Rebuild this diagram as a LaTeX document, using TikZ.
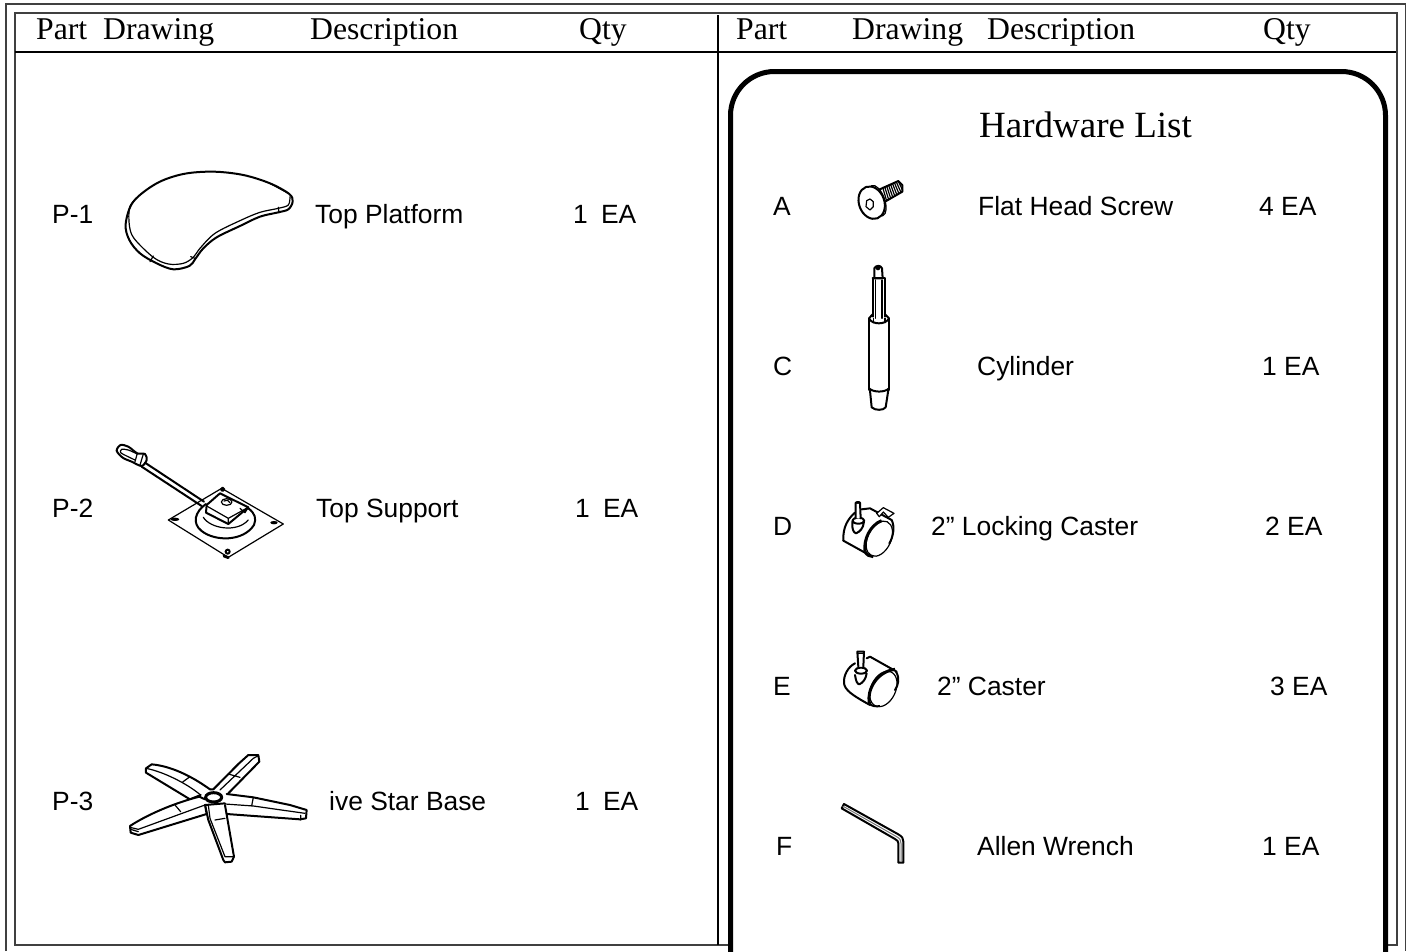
\documentclass[tikz,border=0pt]{standalone}
\usepackage{fontspec}
\setmainfont{Liberation Serif}
\setsansfont{Liberation Sans}
\tikzset{
  headtxt/.style={inner sep=0pt,anchor=base west,font=\rmfamily\fontsize{31.7}{34}\selectfont,text=black},
  bodytxt/.style={inner sep=0pt,anchor=base west,font=\sffamily\fontsize{26.4}{28}\selectfont,text=black},
  titletxt/.style={inner sep=0pt,anchor=base west,font=\rmfamily\fontsize{37}{40}\selectfont,text=black},
  thin ink/.style={line width=1.2pt,line join=round,line cap=round},
  mid ink/.style={line width=2pt,line join=round,line cap=round},
  bold ink/.style={line width=2.8pt,line join=round,line cap=round},
  zoomed/.style={x=0.3333pt,y=-0.3333pt}
}
\begin{document}
\begin{tikzpicture}[x=1pt,y=-1pt]
\useasboundingbox (0,0) rectangle (1408,951);
% frames
\draw[line width=1.3pt,black!75] (6,951) -- (6,4) -- (1405.5,4) -- (1405.5,951);
\draw[line width=1.4pt,black!75] (1397,52) -- (1397,13) -- (15,13) -- (15,945) -- (730,945);
\draw[line width=1.4pt,black!75] (1397,52) -- (1397,945) -- (1385,945);
\draw[line width=2.2pt] (15,52) -- (1396,52);
\draw[line width=2.5pt] (718,15) -- (718,945);
\draw[line width=5pt,rounded corners=44pt] (730.5,955) -- (730.5,71.5) -- (1385.5,71.5) -- (1385.5,955);
% header text
\node[headtxt] (h1) at (36,39) {Part};
\node[headtxt] (h2) at (103,39) {Drawing};
\node[headtxt] (h3) at (310,39) {Description};
\node[headtxt] (h4) at (579,39) {Qty};
\node[headtxt] (h5) at (736,39) {Part};
\node[headtxt] (h6) at (852,39) {Drawing};
\node[headtxt] (h7) at (987,39) {Description};
\node[headtxt] (h8) at (1263,39) {Qty};
\node[titletxt] (hw) at (979,137) {Hardware List};
% left labels
\node[bodytxt] (p1) at (52,223) {P-1};
\node[bodytxt] (p1d) at (315,223) {Top Platform};
\node[bodytxt] (p1q) at (573,223) {1\hspace{0.5em}EA};
\node[bodytxt] (p2) at (52,517) {P-2};
\node[bodytxt] (p2d) at (316,517) {Top Support};
\node[bodytxt] (p2q) at (575,517) {1\hspace{0.5em}EA};
\node[bodytxt] (p3) at (52,810) {P-3};
\node[bodytxt] (p3d) at (329,810) {ive Star Base};
\node[bodytxt] (p3q) at (575,810) {1\hspace{0.5em}EA};
% right labels
\node[bodytxt] (a) at (773,215) {A};
\node[bodytxt] (ad) at (978,215) {Flat Head Screw};
\node[bodytxt] (aq) at (1259,215) {4 EA};
\node[bodytxt] (c) at (773,375) {C};
\node[bodytxt] (cd) at (977,375) {Cylinder};
\node[bodytxt] (cq) at (1262,375) {1 EA};
\node[bodytxt] (d) at (773,535) {D};
\node[bodytxt] (dd) at (931,535) {2” Locking Caster};
\node[bodytxt] (dq) at (1265,535) {2 EA};
\node[bodytxt] (e) at (773,695) {E};
\node[bodytxt] (ed) at (937,695) {2” Caster};
\node[bodytxt] (eq) at (1270,695) {3 EA};
\node[bodytxt] (f) at (776,855) {F};
\node[bodytxt] (fd) at (977,855) {Allen Wrench};
\node[bodytxt] (fq) at (1262,855) {1 EA};
% top platform
\begin{scope}[shift={(100,150)},zoomed]
\draw[mid ink] plot[smooth cycle,tension=.55] coordinates {(77,222)(100,155)(170,100)(250,72)(340,65)(430,75)(510,100)(568,132)(578,155)(565,178)(535,187)(480,200)(420,228)(350,262)(310,295)(285,328)(268,348)(220,358)(170,340)(120,310)(88,270)};
\draw[thin ink] plot[smooth,tension=.55] coordinates {(100,155)(88,175)(88,225)(102,265)(160,322)(205,342)(250,340)(280,322)(300,295)(345,250)(420,212)(480,187)(535,175)(565,165)(570,140)};
\draw[thin ink] (160,318) -- (150,335) (285,325) -- (272,320) (535,172) -- (537,188) (510,100) -- (565,130);
\end{scope}
% top support
\begin{scope}[shift={(100,430)},zoomed]
\draw[thin ink] (365,175) -- (550,282) -- (385,382) -- (205,270) -- cycle;
\draw[mid ink] (318,222) .. controls (285,245) and (275,280) .. (305,303) .. controls (345,335) and (430,335) .. (462,285) .. controls (470,265) and (465,250) .. (445,235);
\draw[thin ink] (310,262) .. controls (330,295) and (410,310) .. (445,270);
\draw[mid ink] (320,225) -- (360,190) -- (445,232) -- (385,282) -- (318,248) -- cycle;
\draw[thin ink] (320,228) -- (385,265) -- (385,282) (385,265) -- (445,232) (420,235) -- (435,248) -- (445,232);
\draw[thin ink] (380,216) ellipse[x radius=16,y radius=10];
\draw[thin ink] (372,213) .. controls (378,208) and (388,210) .. (390,218);
\draw[mid ink] (135,98) -- (312,215) (125,110) -- (305,228);
\draw[mid ink] plot[smooth cycle,tension=.5] coordinates {(50,62)(62,45)(85,50)(112,70)(135,72)(140,90)(125,108)(95,95)(68,83)};
\draw[thin ink] plot[smooth,tension=.5] coordinates {(112,72)(85,60)(65,58)(62,68)(80,78)(105,90)};
\draw[thin ink] (112,70) -- (105,95) (130,72) -- (120,105);
\fill (225,268) ellipse[x radius=13,y radius=5];
\fill (522,278) ellipse[x radius=11,y radius=5];
\draw[mid ink] (368,178) circle[radius=5];
\draw[mid ink] (383,365) circle[radius=6];
\draw[bold ink] (372,378) -- (385,383);
\end{scope}
% star base
\begin{scope}[shift={(110,740)},zoomed]
\draw[mid ink,fill=white] (300,148) .. controls (240,105) and (180,78) .. (125,73) -- (108,85) -- (108,98) -- (240,178) -- (272,165);
\draw[thin ink] (108,85) .. controls (160,95) and (230,130) .. (272,165) (218,126) -- (240,110);
\draw[mid ink,fill=white] (310,148) -- (385,72) -- (415,45) -- (445,45) -- (448,65) -- (355,160);
\draw[thin ink] (330,150) -- (430,55) -- (445,47) (355,102) -- (390,112);
\draw[mid ink,fill=white] (350,162) -- (430,172) -- (540,195) -- (590,210) -- (588,235) -- (570,238) -- (350,222);
\draw[thin ink] (345,192) -- (430,198) -- (585,220) (430,172) -- (425,198) (572,226) -- (572,240);
\draw[mid ink,fill=white] (285,195) -- (295,240) -- (340,360) -- (345,367) -- (365,365) -- (372,350) -- (345,195);
\draw[thin ink] (295,195) -- (300,235) -- (345,350) -- (372,350) (315,240) -- (345,235);
\draw[mid ink,fill=white] (268,170) .. controls (190,190) and (110,225) .. (60,258) -- (62,278) -- (85,285) -- (290,222) -- (285,195);
\draw[thin ink] (60,262) -- (85,268) -- (285,195) (195,195) -- (212,215) (62,268) -- (85,275);
\draw[mid ink] (268,170) -- (285,178) (300,148) -- (310,148) (285,195) -- (345,190);
\draw[line width=3pt,fill=white] (311,172) ellipse[x radius=24,y radius=14];
\end{scope}
% screw
\begin{scope}[shift={(820,170)},zoomed]
\draw[mid ink] (175,60) -- (235,33) -- (247,45) -- (247,65) -- (195,95);
\foreach \i in {0,...,8} \draw[thin ink] ({188+\i*6},{52-\i*2}) -- ({200+\i*6},{93-\i*4});
\draw[thin ink,fill=white,rotate around={20:(172,92)}] (172,92) ellipse[x radius=22,y radius=48];
\draw[mid ink,fill=white,rotate around={20:(155,98)}] (155,98) ellipse[x radius=38,y radius=50];
\draw[thin ink] (140,92) -- (150,87) -- (160,95) -- (160,110) -- (150,120) -- (138,110) -- cycle;
\end{scope}
% cylinder
\begin{scope}[shift={(820,170)},zoomed]
\draw[mid ink] (163,295) .. controls (168,285) and (182,285) .. (186,295) -- (188,325) -- (163,325) -- cycle;
\fill (174,294) circle[radius=7];
\draw[mid ink] (158,325) -- (195,325) -- (195,440) (158,325) -- (158,440);
\draw[thin ink] (166,330) -- (166,445) (186,330) -- (186,445);
\draw[mid ink] (147,445) -- (158,433) (195,433) -- (207,445) (147,445) .. controls (155,465) and (198,465) .. (207,445);
\draw[thin ink] (160,445) -- (160,458) (195,445) -- (195,458);
\draw[mid ink] (147,445) -- (147,660) (207,445) -- (207,660);
\draw[mid ink] (147,655) .. controls (160,668) and (195,668) .. (207,655);
\draw[mid ink] (150,662) -- (155,712) .. controls (165,722) and (190,722) .. (197,712) -- (205,660);
\end{scope}
% locking caster
\begin{scope}[shift={(820,490)},zoomed]
\draw[mid ink] (70,152) .. controls (68,110) and (85,85) .. (105,68) (125,58) -- (150,55) -- (215,90);
\draw[mid ink] (70,152) -- (135,188);
\draw[thin ink,fill=white] (170,70) -- (190,53) -- (222,70) -- (205,82) -- (190,66) -- (178,80) -- cycle;
\draw[line width=1.2pt,fill=white,rotate around={-25:(178,146)}] (178,146) ellipse[x radius=35,y radius=56];
\draw[line width=3pt] (135,185) .. controls (130,150) and (150,105) .. (185,92);
\draw[line width=3pt] (135,185) .. controls (140,195) and (150,200) .. (160,200);
\draw[mid ink] (215,90) .. controls (225,110) and (220,140) .. (208,160);
\draw[mid ink] (97,95) .. controls (95,115) and (100,128) .. (108,130) .. controls (120,125) and (130,115) .. (132,95);
\draw[mid ink,fill=white] (115,92) ellipse[x radius=18,y radius=9];
\draw[mid ink,fill=white] (107,85) -- (107,38) -- (120,38) -- (122,85);
\fill (114,37) ellipse[x radius=8,y radius=4];
\end{scope}
% caster
\begin{scope}[shift={(820,490)},zoomed]
\draw[mid ink] (72,580) .. controls (70,555) and (85,530) .. (105,520) (140,505) -- (150,500) -- (230,545);
\draw[mid ink] (72,580) .. controls (75,600) and (95,615) .. (150,645);
\draw[line width=1.2pt,fill=white,rotate around={-25:(190,597)}] (190,597) ellipse[x radius=37,y radius=56];
\draw[line width=3pt] (148,640) .. controls (140,600) and (170,545) .. (225,538);
\draw[line width=2pt] (148,640) .. controls (155,650) and (170,650) .. (180,648);
\draw[mid ink] (228,545) .. controls (240,565) and (235,585) .. (225,600);
\draw[mid ink] (105,555) .. controls (108,575) and (112,582) .. (118,583) .. controls (130,578) and (138,565) .. (140,550);
\draw[mid ink,fill=white] (123,542) ellipse[x radius=18,y radius=9];
\draw[mid ink,fill=white] (115,530) -- (112,485) -- (132,485) -- (130,530);
\draw[thin ink] (115,490) -- (130,490);
\end{scope}
% allen wrench
\begin{scope}[shift={(820,790)},zoomed]
\draw[mid ink,fill=white] (65,55) -- (72,42) -- (235,133) .. controls (247,140) and (250,145) .. (250,155) -- (250,218) -- (235,218) -- (235,160) .. controls (235,155) and (232,150) .. (225,147) -- cycle;
\draw[line width=1pt,black!55] (68,48) -- (230,140) .. controls (240,146) and (243,150) .. (243,160) -- (243,216);
\end{scope}
\end{tikzpicture}
\end{document}
